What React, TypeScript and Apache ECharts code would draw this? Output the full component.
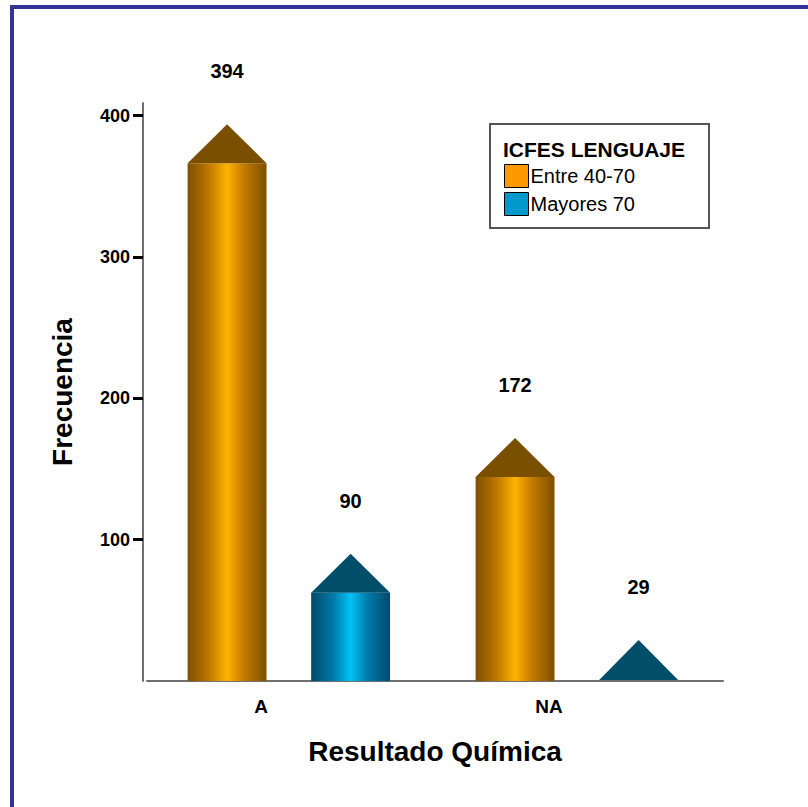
import React, { useEffect, useRef } from "react";
import * as echarts from "echarts";

const categories = ["A", "NA"];
const seriesNames = ["Entre 40-70", "Mayores 70"];
const entre4070 = [394, 172];
const mayores70 = [90, 29];
const yTicks = [100, 200, 300, 400];
const legendTitle = "ICFES LENGUAJE";
const xTitle = "Resultado Química";
const yTitle = "Frecuencia";

const FONT = 'Arial, "Liberation Sans", sans-serif';

function makeRenderItem(offsetFrac: number, bodyStops: any[], capColor: string) {
  return (params: any, api: any) => {
    const idx = api.value(0);
    const val = api.value(1);
    const base = api.coord([idx, 0]);
    const top = api.coord([idx, val]);
    const band = api.size([1, 0])[0];
    const w = band * 0.274;
    const cx = base[0] + band * offsetFrac;
    const capH = 39;
    let bodyTop = Math.min(top[1] + capH, base[1]);
    if (base[1] - bodyTop < 4) bodyTop = base[1] - 1;
    const children: any[] = [];
    if (base[1] - bodyTop > 2) {
      children.push({
        type: "rect",
        shape: { x: cx - w / 2, y: bodyTop, width: w, height: base[1] - bodyTop },
        style: { fill: new echarts.graphic.LinearGradient(0, 0, 1, 0, bodyStops) },
      });
    }
    children.push({
      type: "polygon",
      shape: { points: [[cx - w / 2, bodyTop], [cx, top[1]], [cx + w / 2, bodyTop]] },
      style: { fill: capColor },
    });
    children.push({
      type: "text",
      x: cx,
      y: top[1] - 53,
      style: {
        text: String(val),
        fill: "#000",
        fontSize: 20,
        fontWeight: "bold",
        fontFamily: FONT,
        align: "center",
        verticalAlign: "middle",
      },
    });
    return { type: "group", children };
  };
}

const orangeStops = [
  { offset: 0, color: "#7d4f00" },
  { offset: 0.28, color: "#c07a00" },
  { offset: 0.5, color: "#ffb300" },
  { offset: 0.72, color: "#c07a00" },
  { offset: 1, color: "#7d4f00" },
];
const blueStops = [
  { offset: 0, color: "#004a6a" },
  { offset: 0.28, color: "#0079a8" },
  { offset: 0.5, color: "#00c2f5" },
  { offset: 0.72, color: "#0079a8" },
  { offset: 1, color: "#004a6a" },
];

export default function App() {
  const ref = useRef<HTMLDivElement>(null);
  useEffect(() => {
    if (!ref.current) return;
    const chart = echarts.init(ref.current, undefined, { renderer: "svg" });
    chart.setOption({
      animation: false,
      backgroundColor: "#ffffff",
      grid: { left: 147, right: 85, top: 103, bottom: 126 },
      xAxis: {
        type: "category",
        data: categories,
        boundaryGap: true,
        axisLine: { lineStyle: { color: "#707070", width: 2 } },
        axisTick: { alignWithLabel: true, length: 10, lineStyle: { color: "#000", width: 3 } },
        axisLabel: {
          margin: 16,
          color: "#000",
          fontSize: 19,
          fontWeight: "bold",
          fontFamily: FONT,
          padding: [0, 60, 0, 0],
        },
        name: xTitle,
        nameLocation: "middle",
        nameGap: 56,
        nameTextStyle: { fontSize: 28, fontWeight: "bold", fontFamily: FONT, color: "#000" },
      },
      yAxis: {
        type: "value",
        min: 0,
        max: 409,
        interval: 100,
        offset: 4,
        splitLine: { show: false },
        axisLine: { show: true, lineStyle: { color: "#707070", width: 2 } },
        axisTick: { show: true, length: 10, customValues: yTicks, lineStyle: { color: "#000", width: 3 } },
        axisLabel: {
          customValues: yTicks,
          margin: 13,
          color: "#000",
          fontSize: 18,
          fontWeight: "bold",
          fontFamily: FONT,
        },
        name: yTitle,
        nameLocation: "middle",
        nameRotate: 90,
        nameGap: 67,
        nameTextStyle: { fontSize: 28, fontWeight: "bold", fontFamily: FONT, color: "#000" },
      },
      legend: {
        data: seriesNames,
        orient: "vertical",
        left: 504,
        top: 164,
        padding: 0,
        itemWidth: 24,
        itemHeight: 23,
        itemGap: 4,
        icon: "rect",
        itemStyle: { borderColor: "#000", borderWidth: 1 },
        textStyle: { fontSize: 20, fontFamily: FONT, color: "#000", padding: [0, 0, 0, -3] },
      },
      graphic: [
        { type: "rect", shape: { x: 10, y: 5, width: 4, height: 802 }, style: { fill: "#333399" } },
        { type: "rect", shape: { x: 10, y: 5, width: 798, height: 4 }, style: { fill: "#333399" } },
        {
          type: "rect",
          shape: { x: 490, y: 124, width: 219, height: 104 },
          style: { fill: "#fff", stroke: "#555", lineWidth: 2 },
        },
        {
          type: "text",
          x: 503,
          y: 149,
          style: {
            text: legendTitle,
            fill: "#000",
            fontSize: 21,
            fontWeight: "bold",
            fontFamily: FONT,
            verticalAlign: "middle",
          },
        },
      ],
      series: [
        {
          type: "custom",
          name: seriesNames[0],
          itemStyle: { color: "#ff9900" },
          renderItem: makeRenderItem(-0.222, orangeStops, "#7a5000"),
          data: entre4070.map((v, i) => [i, v]),
          encode: { x: 0, y: 1 },
        },
        {
          type: "custom",
          name: seriesNames[1],
          itemStyle: { color: "#0099cc" },
          renderItem: makeRenderItem(0.207, blueStops, "#004e6a"),
          data: mayores70.map((v, i) => [i, v]),
          encode: { x: 0, y: 1 },
        },
      ],
    });
    return () => chart.dispose();
  }, []);
  return (
    <div
      ref={ref}
      style={{ position: "fixed", left: 0, top: 0, width: 808, height: 807 }}
    />
  );
}
